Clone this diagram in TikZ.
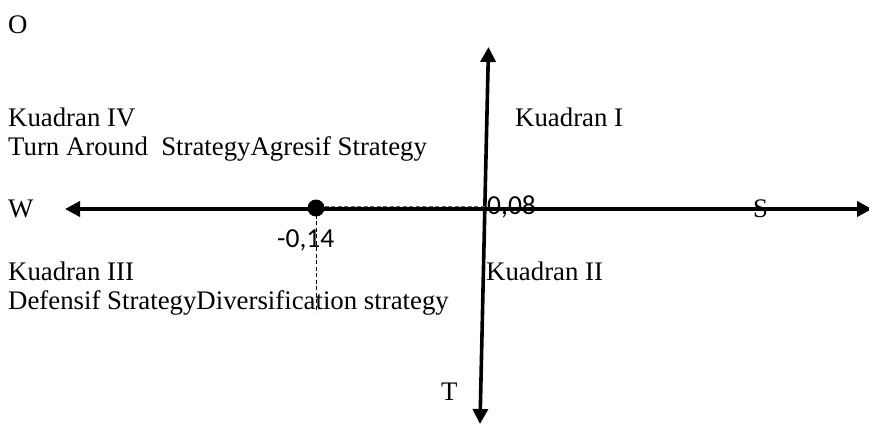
\documentclass[tikz,border=0pt]{standalone}
\usepackage{fontspec}
\setmainfont{Liberation Serif}
\newfontfamily\numfont{Carlito}
\usetikzlibrary{arrows.meta}
\begin{document}
\begin{tikzpicture}[x=1pt,y=-1pt,
  lbl/.style={anchor=base west,inner sep=0pt,font=\fontsize{26.8}{30}\selectfont},
  num/.style={anchor=base west,inner sep=0pt,font=\numfont\fontsize{27.5}{30}\selectfont},
  axis/.style={line width=3.6pt,-{Triangle[length=15pt,width=15pt]}},
  guide/.style={line width=0.9pt,dash pattern=on 4pt off 2.5pt}]
\useasboundingbox (0,0) rectangle (869,424);
% axes
\coordinate (ctr) at (484.8,209);
\coordinate (ntip) at (488.5,47);
\coordinate (stip) at (480,424);
\coordinate (wtip) at (65,209);
\coordinate (etip) at (872,209);
\draw[axis] (ctr) -- (ntip);
\draw[axis] (ctr) -- (stip);
\draw[axis] (ctr) -- (wtip);
\draw[axis] (ctr) -- (etip);
% point
\node[circle,fill=black,inner sep=0pt,minimum size=17pt] (pt) at (316,208) {};
\coordinate (vend) at (316,312);
\coordinate (hend) at (484.5,206.3);
\draw[guide] (pt.center) -- (vend);
\draw[guide,white!40!black] (pt.east |- hend) -- (hend);
% labels
\node[lbl] (o) at (8,33) {O};
\node[lbl] (k4) at (8,126) {Kuadran IV};
\node[lbl] (s4) at (8,155) {Turn Around\ \ StrategyAgresif Strategy};
\node[lbl] (k1) at (515,126) {Kuadran I};
\node[lbl] (w) at (8,217) {W};
\node[lbl] (s) at (753,217) {S};
\node[num] (n08) at (487,214) {0,08};
\node[num] (n14) at (277,247) {-0,14};
\node[lbl] (k3) at (8,280) {Kuadran III};
\node[lbl] (s3) at (8,309) {Defensif StrategyDiversification strategy};
\node[lbl] (k2) at (486,280) {Kuadran II};
\node[lbl] (t) at (441,400) {T};
\end{tikzpicture}
\end{document}
